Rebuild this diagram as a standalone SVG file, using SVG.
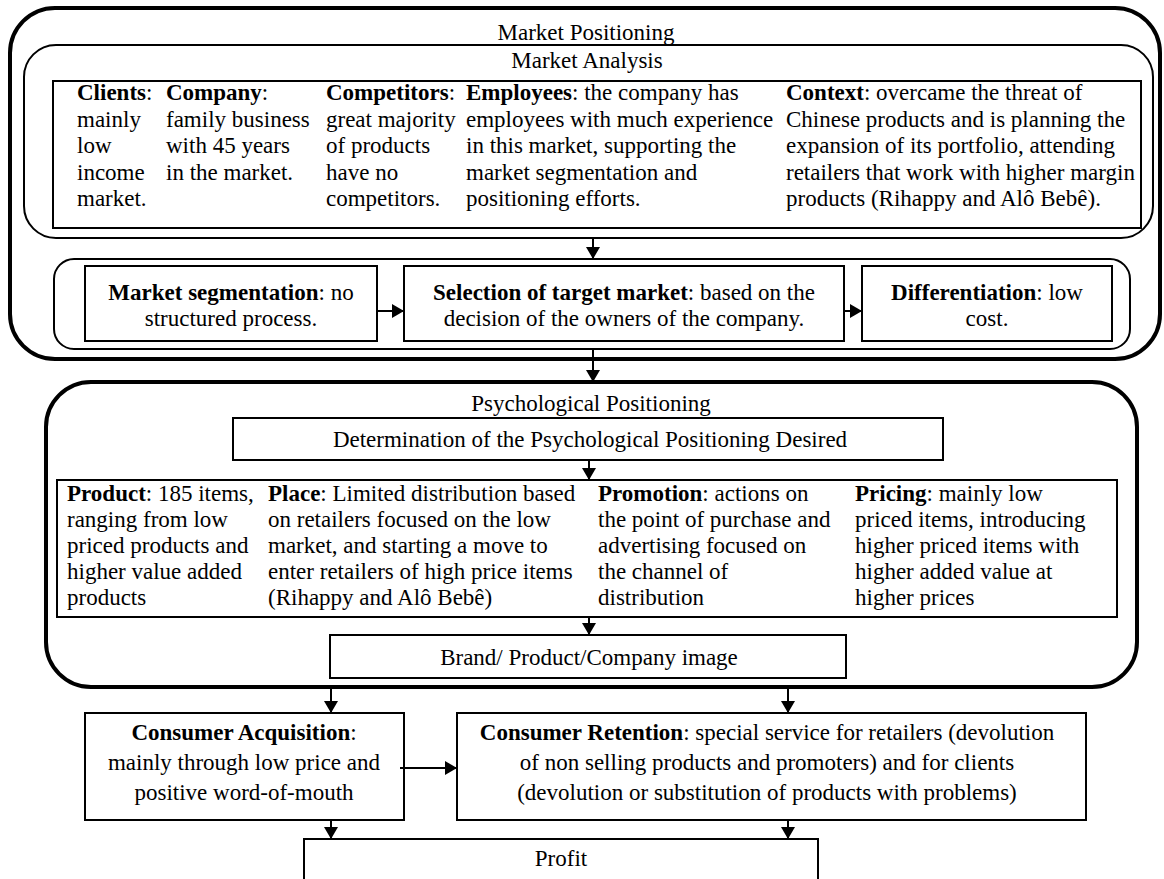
<svg xmlns="http://www.w3.org/2000/svg" width="1164" height="879" viewBox="0 0 1164 879">
<style>
text{font-family:"Liberation Serif","Times New Roman",serif;font-size:23px;fill:#000}
.c{text-anchor:middle}
.b{font-weight:bold}
.thick{fill:none;stroke:#000;stroke-width:4}
.med{fill:none;stroke:#000;stroke-width:2}
.box{fill:#fff;stroke:#000;stroke-width:2}
.ln{stroke:#000;stroke-width:2;fill:none}
</style>
<defs>
<marker id="ah" markerWidth="12" markerHeight="14" refX="12" refY="7" orient="auto" markerUnits="userSpaceOnUse">
<path d="M0,0 L12,7 L0,14 Z" fill="#000"/>
</marker>
</defs>
<rect width="1164" height="879" fill="#fff"/>

<g id="market-positioning">
<rect class="thick" x="10" y="8" width="1150" height="351" rx="45"/>
<text class="c" x="586" y="40">Market Positioning</text>
</g>

<g id="market-analysis">
<rect class="med" x="24" y="45" width="1129" height="193" rx="32"/>
<text class="c" x="587" y="68">Market Analysis</text>
<rect class="box" x="53" y="81" width="1088" height="147"/>
<text x="77" y="100"><tspan class="b">Clients</tspan>:</text>
<text x="77" y="126.5">mainly</text>
<text x="77" y="153">low</text>
<text x="77" y="179.5">income</text>
<text x="77" y="206">market.</text>
<text x="166" y="100"><tspan class="b">Company</tspan>:</text>
<text x="166" y="126.5">family business</text>
<text x="166" y="153">with 45 years</text>
<text x="166" y="179.5">in the market.</text>
<text x="326" y="100"><tspan class="b">Competitors</tspan>:</text>
<text x="326" y="126.5">great majority</text>
<text x="326" y="153">of products</text>
<text x="326" y="179.5">have no</text>
<text x="326" y="206">competitors.</text>
<text x="466" y="100"><tspan class="b">Employees</tspan>: the company has</text>
<text x="466" y="126.5">employees with much experience</text>
<text x="466" y="153">in this market, supporting the</text>
<text x="466" y="179.5">market segmentation and</text>
<text x="466" y="206">positioning efforts.</text>
<text x="786" y="100"><tspan class="b">Context</tspan>: overcame the threat of</text>
<text x="786" y="126.5">Chinese products and is planning the</text>
<text x="786" y="153">expansion of its portfolio, attending</text>
<text x="786" y="179.5">retailers that work with higher margin</text>
<text x="786" y="206">products (Rihappy and Alô Bebê).</text>
</g>

<g id="segmentation-row">
<rect class="med" x="54" y="259" width="1076" height="90" rx="20"/>
</g>

<g id="market-segmentation">
<rect class="box" x="85" y="266" width="292" height="75"/>
<text class="c" x="231" y="300"><tspan class="b">Market segmentation</tspan>: no</text>
<text class="c" x="231" y="326">structured process.</text>
</g>

<g id="target-market">
<rect class="box" x="404" y="266" width="440" height="75"/>
<text class="c" x="624" y="300"><tspan class="b">Selection of target market</tspan>: based on the</text>
<text class="c" x="624" y="326">decision of the owners of the company.</text>
</g>

<g id="differentiation">
<rect class="box" x="862" y="266" width="250" height="75"/>
<text class="c" x="987" y="300"><tspan class="b">Differentiation</tspan>: low</text>
<text class="c" x="987" y="326">cost.</text>
</g>

<g id="psychological-positioning">
<rect class="thick" x="46" y="382" width="1091" height="305" rx="45"/>
<text class="c" x="591" y="411">Psychological Positioning</text>
</g>

<g id="determination">
<rect class="box" x="233" y="418" width="710" height="42"/>
<text class="c" x="590" y="447">Determination of the Psychological Positioning Desired</text>
</g>

<g id="marketing-mix">
<rect class="box" x="57" y="480" width="1060" height="137"/>
<text x="67" y="501"><tspan class="b">Product</tspan>: 185 items,</text>
<text x="67" y="527">ranging from low</text>
<text x="67" y="553">priced products and</text>
<text x="67" y="579">higher value added</text>
<text x="67" y="605">products</text>
<text x="268" y="501"><tspan class="b">Place</tspan>: Limited distribution based</text>
<text x="268" y="527">on retailers focused on the low</text>
<text x="268" y="553">market, and starting a move to</text>
<text x="268" y="579">enter retailers of high price items</text>
<text x="268" y="605">(Rihappy and Alô Bebê)</text>
<text x="598" y="501"><tspan class="b">Promotion</tspan>: actions on</text>
<text x="598" y="527">the point of purchase and</text>
<text x="598" y="553">advertising focused on</text>
<text x="598" y="579">the channel of</text>
<text x="598" y="605">distribution</text>
<text x="855" y="501"><tspan class="b">Pricing</tspan>: mainly low</text>
<text x="855" y="527">priced items, introducing</text>
<text x="855" y="553">higher priced items with</text>
<text x="855" y="579">higher added value at</text>
<text x="855" y="605">higher prices</text>
</g>

<g id="brand-image">
<rect class="box" x="330" y="635" width="516" height="43"/>
<text class="c" x="589" y="665">Brand/ Product/Company image</text>
</g>

<g id="consumer-acquisition">
<rect class="box" x="85" y="713" width="319" height="107"/>
<text class="c" x="244" y="740"><tspan class="b">Consumer Acquisition</tspan>:</text>
<text class="c" x="244" y="770">mainly through low price and</text>
<text class="c" x="244" y="800">positive word-of-mouth</text>
</g>

<g id="consumer-retention">
<rect class="box" x="457" y="713" width="629" height="107"/>
<text class="c" x="767" y="740"><tspan class="b">Consumer Retention</tspan>: special service for retailers (devolution</text>
<text class="c" x="767" y="770">of non selling products and promoters) and for clients</text>
<text class="c" x="767" y="800">(devolution or substitution of products with problems)</text>
</g>

<g id="profit">
<rect class="box" x="304" y="839" width="514" height="50"/>
<text class="c" x="561" y="866">Profit</text>
</g>

<g id="connectors">
<line class="ln" x1="593" y1="238" x2="593" y2="259" marker-end="url(#ah)"/>
<line class="ln" x1="377" y1="311" x2="404" y2="311" marker-end="url(#ah)"/>
<line class="ln" x1="844" y1="311" x2="862" y2="311" marker-end="url(#ah)"/>
<line class="ln" x1="593" y1="349" x2="593" y2="382" marker-end="url(#ah)"/>
<line class="ln" x1="589" y1="460" x2="589" y2="480" marker-end="url(#ah)"/>
<line class="ln" x1="589" y1="617" x2="589" y2="635" marker-end="url(#ah)"/>
<line class="ln" x1="331" y1="687" x2="331" y2="713" marker-end="url(#ah)"/>
<line class="ln" x1="788" y1="687" x2="788" y2="713" marker-end="url(#ah)"/>
<line class="ln" x1="400" y1="768" x2="457" y2="768" marker-end="url(#ah)"/>
<line class="ln" x1="331" y1="820" x2="331" y2="839" marker-end="url(#ah)"/>
<line class="ln" x1="788" y1="820" x2="788" y2="839" marker-end="url(#ah)"/>
</g>
</svg>
